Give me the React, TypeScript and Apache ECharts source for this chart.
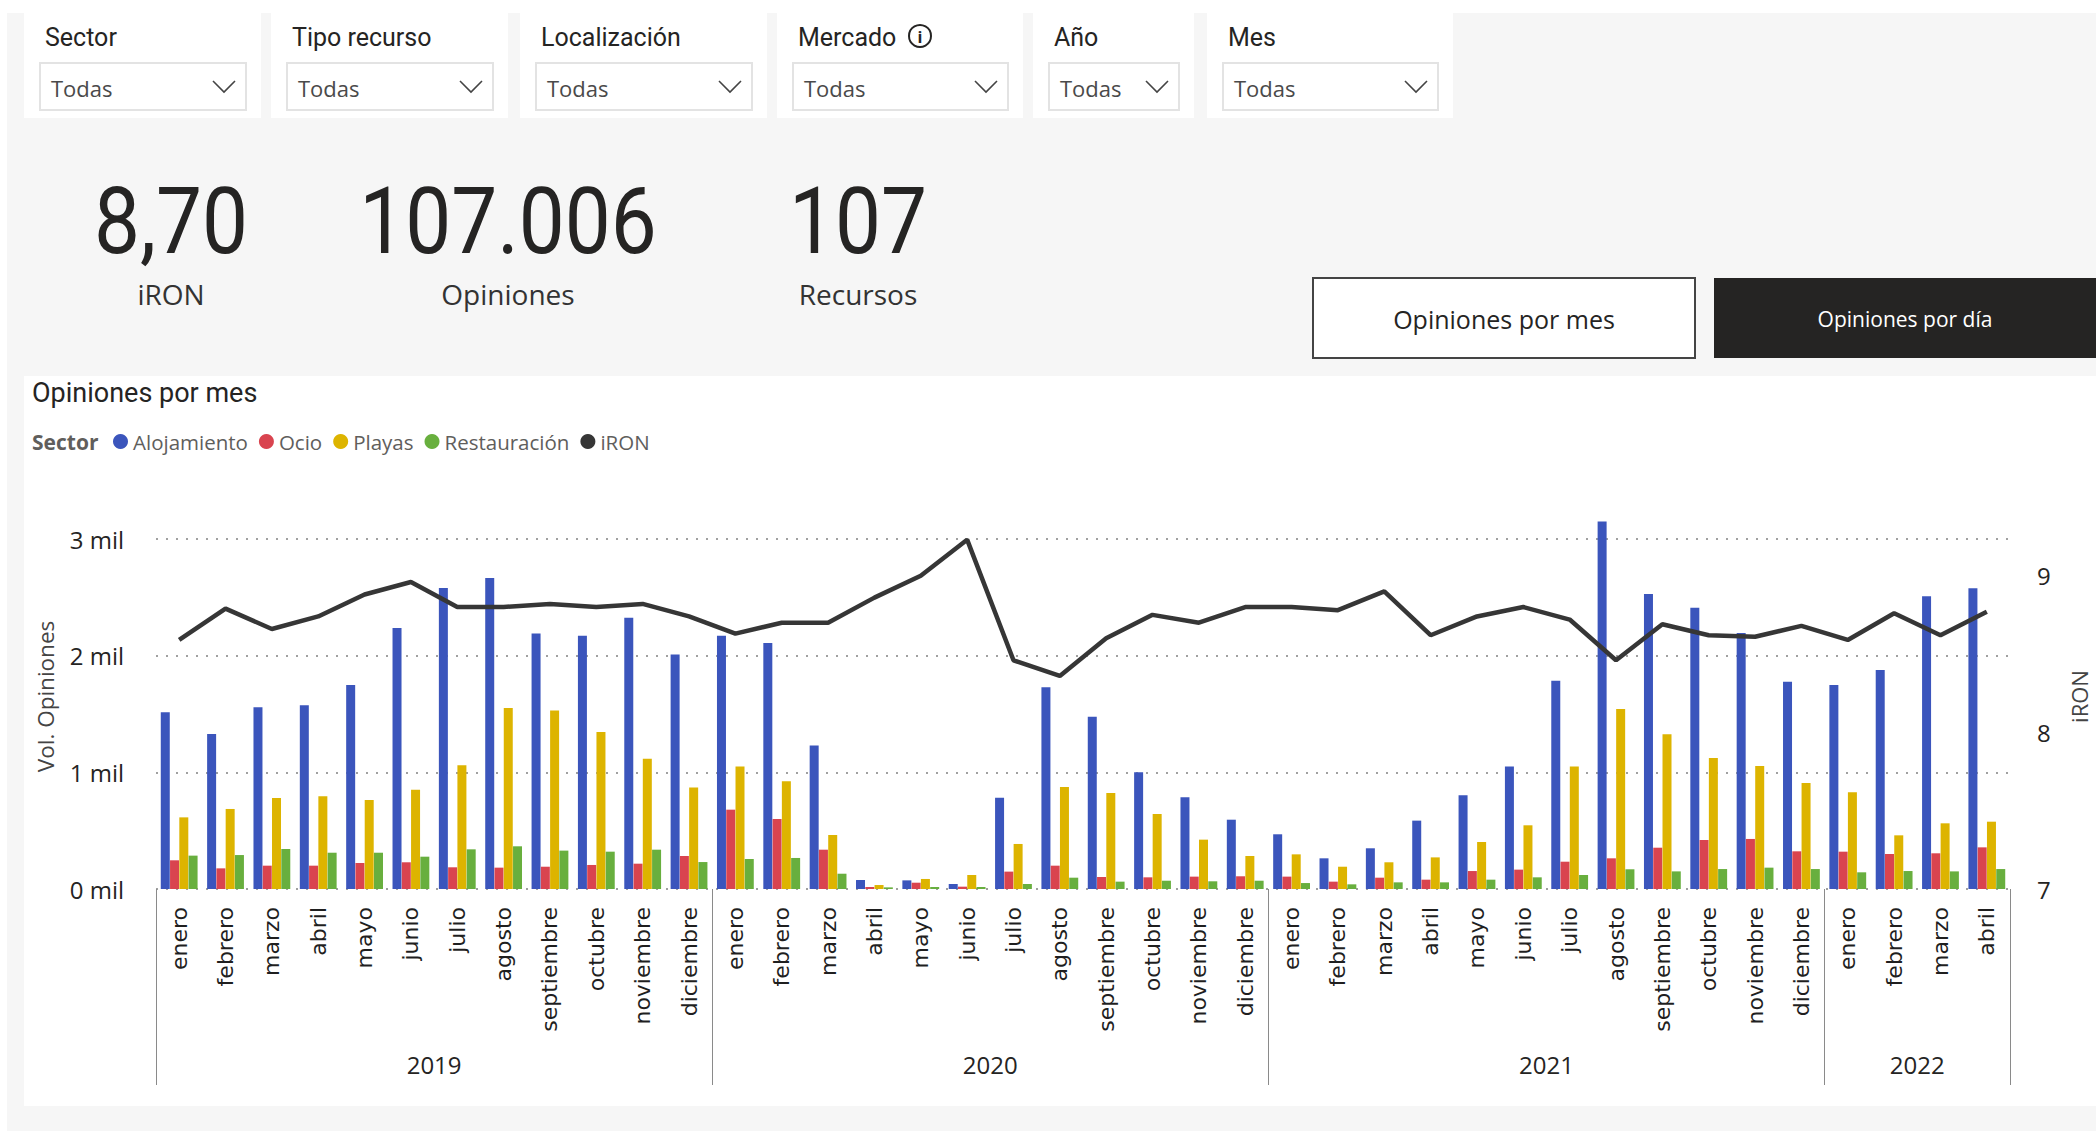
import React, { useEffect, useRef } from 'react';
import * as echarts from 'echarts';

// ---------------- DATA ----------------
const YEARS = ['2019', '2020', '2021', '2022'];
const MONTHS_PER_YEAR = [12, 12, 12, 4];
const MONTH_NAMES = ['enero', 'febrero', 'marzo', 'abril', 'mayo', 'junio', 'julio', 'agosto', 'septiembre', 'octubre', 'noviembre', 'diciembre'];

const SERIES_NAMES = ['Alojamiento', 'Ocio', 'Playas', 'Restauración', 'iRON'];

const ALOJAMIENTO = [
  1514, 1329, 1557, 1574, 1749, 2237, 2580, 2666, 2191, 2171, 2326, 2009,
  2171, 2109, 1231, 77, 74, 43, 783, 1729, 1477, 1000, 786, 594,
  469, 263, 349, 586, 803, 1049, 1786, 3149, 2529, 2411, 2194, 1777,
  1749, 1877, 2509, 2577,
];
const OCIO = [
  246, 177, 200, 200, 223, 229, 186, 183, 191, 206, 217, 283,
  680, 600, 337, 17, 54, 20, 149, 200, 103, 100, 106, 109,
  106, 63, 97, 80, 154, 166, 234, 263, 354, 420, 429, 323,
  320, 300, 306, 357,
];
const PLAYAS = [
  614, 686, 780, 794, 763, 851, 1060, 1551, 1529, 1346, 1117, 869,
  1051, 923, 463, 34, 86, 120, 386, 874, 823, 643, 423, 283,
  297, 191, 229, 271, 403, 546, 1049, 1543, 1326, 1123, 1054, 909,
  829, 460, 563, 577,
];
const RESTAURACION = [
  286, 291, 343, 311, 311, 277, 340, 366, 329, 320, 337, 231,
  257, 266, 131, 14, 17, 17, 43, 97, 63, 71, 66, 71,
  51, 40, 57, 57, 80, 100, 120, 169, 151, 171, 183, 171,
  143, 154, 151, 171,
];
const IRON = [
  8.59, 8.79, 8.66, 8.74, 8.88, 8.96, 8.80, 8.80, 8.82, 8.80, 8.82, 8.74,
  8.63, 8.70, 8.70, 8.86, 9.00, 9.23, 8.46, 8.36, 8.60, 8.75, 8.70, 8.80,
  8.80, 8.78, 8.90, 8.62, 8.74, 8.80, 8.72, 8.46, 8.69, 8.62, 8.61, 8.68,
  8.59, 8.76, 8.62, 8.77,
];

const LEFT_TICKS = [0, 1000, 2000, 3000];
const RIGHT_TICKS = [7, 8, 9];

const FILTER_TITLES = ['Sector', 'Tipo recurso', 'Localización', 'Mercado', 'Año', 'Mes'];
const FILTER_VALUE = 'Todas';
const KPI_VALUES = ['8,70', '107.006', '107'];
const KPI_LABELS = ['iRON', 'Opiniones', 'Recursos'];
const BUTTON_LABELS = ['Opiniones por mes', 'Opiniones por día'];
const CHART_TITLE = 'Opiniones por mes';
const LEGEND_TITLE = 'Sector';
const Y_LEFT_NAME = 'Vol. Opiniones';
const Y_RIGHT_NAME = 'iRON';

// ---------------- STYLE / LAYOUT ----------------
const COLORS = ['#3B55BC', '#D9444F', '#DDB400', '#68AF3E', '#363636'];
const DARK = '#252423';
const SEGOE = '"Open Sans", "Noto Sans", sans-serif';
const DIN = 'Roboto, "Open Sans", sans-serif';

const CARD_LAYOUT = [
  { x: 24, w: 237 }, { x: 271, w: 237 }, { x: 520, w: 247 },
  { x: 777, w: 246 }, { x: 1033, w: 161 }, { x: 1207, w: 246 },
];
const KPI_X = [171, 508, 858];

function buildCategories() {
  const cats: string[] = [];
  MONTHS_PER_YEAR.forEach((n) => {
    for (let i = 0; i < n; i++) cats.push(MONTH_NAMES[i]);
  });
  return cats;
}

function yearBoundaries() {
  const b = [0];
  MONTHS_PER_YEAR.forEach((n) => b.push(b[b.length - 1] + n));
  return b;
}

function text(x: number, y: number, t: string, opts: any = {}) {
  const { scaleX, ...style } = opts;
  const el: any = {
    type: 'text',
    x,
    y,
    z: 100,
    silent: true,
    style: {
      text: t,
      fill: DARK,
      fontFamily: SEGOE,
      fontSize: 22,
      textAlign: 'left',
      textVerticalAlign: 'middle',
      ...style,
    },
  };
  if (scaleX) el.scaleX = scaleX;
  return el;
}

function rect(x: number, y: number, w: number, h: number, style: any, z = -100) {
  return { type: 'rect', z, silent: true, shape: { x, y, width: w, height: h }, style };
}

function buildGraphics() {
  const els: any[] = [];
  // page canvas
  els.push(rect(7, 13, 2089, 1118, { fill: '#F6F6F6' }, -200));
  // filter cards
  CARD_LAYOUT.forEach((c, i) => {
    els.push(rect(c.x, 13, c.w, 105, { fill: '#FFFFFF' }, -150));
    const ddx = c.x + 16;
    const ddw = c.w - 31;
    els.push(rect(ddx, 63, ddw, 47, { fill: '#FFFFFF', stroke: '#E3E3E3', lineWidth: 2 }, -140));
    els.push(text(c.x + 21, 37, FILTER_TITLES[i], { fontFamily: DIN, fontSize: 25 }));
    els.push(text(ddx + 11, 88, FILTER_VALUE, { fontSize: 22, fill: '#4A4A4A' }));
    const cx = ddx + ddw - 22;
    els.push({
      type: 'polyline', z: 100, silent: true,
      shape: { points: [[cx - 11, 81], [cx, 92], [cx + 11, 81]] },
      style: { stroke: '#444', lineWidth: 1.6, fill: null },
    });
  });
  // info icon next to "Mercado"
  els.push({ type: 'circle', z: 100, silent: true, shape: { cx: 920, cy: 36, r: 11 }, style: { stroke: DARK, lineWidth: 2, fill: null } });
  els.push(text(920, 37, 'i', { fontSize: 16, fontWeight: 'bold', textAlign: 'center' }));

  // KPIs
  KPI_VALUES.forEach((v, i) => {
    els.push(text(KPI_X[i], 221, v, { fontFamily: DIN, fontSize: 93, textAlign: 'center', scaleX: 0.88 }));
    els.push(text(KPI_X[i], 294, KPI_LABELS[i], { fontSize: 28, textAlign: 'center', fill: '#333' }));
  });

  // buttons
  els.push(rect(1313, 278, 382, 80, { fill: '#FFFFFF', stroke: '#444', lineWidth: 2 }, -120));
  els.push(text(1504, 319, BUTTON_LABELS[0], { fontSize: 25, textAlign: 'center' }));
  els.push(rect(1714, 278, 382, 80, { fill: DARK }, -120));
  els.push(text(1905, 319, BUTTON_LABELS[1], { fontSize: 21, textAlign: 'center', fill: '#FFFFFF' }));

  // chart panel
  els.push(rect(24, 376, 2072, 730, { fill: '#FFFFFF' }, -150));
  els.push(text(32, 393, CHART_TITLE, { fontFamily: DIN, fontSize: 27 }));
  els.push(text(32, 442, LEGEND_TITLE, { fontSize: 21, fontWeight: 'bold', fill: '#605E5C' }));
  return els;
}

export default function App() {
  const ref = useRef<HTMLDivElement>(null);

  useEffect(() => {
    if (!ref.current) return;
    const chart = echarts.init(ref.current, undefined, { renderer: 'svg' });
    const categories = buildCategories();
    const bounds = yearBoundaries();
    const centers = YEARS.map((_, i) => (bounds[i] + bounds[i + 1]) / 2);
    const leftMax = 3300;
    const rightMax = 7 + 385 / 156.65;
    const gridColor = '#A0A0A0';

    const barBase = {
      type: 'bar',
      xAxisIndex: 0,
      yAxisIndex: 0,
      barWidth: 9,
      barGap: '3%',
    };

    const option: any = {
      animation: false,
      backgroundColor: '#FFFFFF',
      textStyle: { fontFamily: SEGOE },
      grid: { left: 156, right: 86, top: 504, bottom: 242, containLabel: false, outerBoundsMode: 'none' },
      legend: {
        left: 113,
        top: 431,
        padding: 0,
        icon: 'circle',
        itemWidth: 15,
        itemHeight: 15,
        itemGap: 11,
        textStyle: { fontFamily: SEGOE, fontSize: 20.5, color: '#605E5C' },
        data: SERIES_NAMES,
      },
      xAxis: [
        {
          type: 'category',
          data: categories,
          position: 'bottom',
          axisLine: { show: false },
          axisTick: { show: false },
          splitLine: { show: false },
          axisLabel: {
            interval: 0,
            rotate: 90,
            margin: 18,
            fontFamily: '"DejaVu Sans", sans-serif',
            fontSize: 22,
            color: '#1F1F1F',
          },
        },
        {
          type: 'value',
          min: bounds[0],
          max: bounds[bounds.length - 1],
          position: 'bottom',
          axisLine: { show: false },
          splitLine: { show: false },
          axisTick: {
            show: true,
            customValues: bounds,
            length: 196,
            lineStyle: { color: '#8A8A8A', width: 1 },
          },
          axisLabel: {
            customValues: centers,
            margin: 163,
            fontFamily: SEGOE,
            fontSize: 24,
            color: DARK,
            formatter: (v: number) => {
              const idx = centers.findIndex((c) => Math.abs(c - v) < 1e-6);
              return idx >= 0 ? YEARS[idx] : '';
            },
          },
        },
      ],
      yAxis: [
        {
          type: 'value',
          min: 0,
          max: leftMax,
          interval: 1000,
          name: Y_LEFT_NAME,
          nameLocation: 'middle',
          nameRotate: 90,
          nameGap: 99,
          nameTextStyle: { fontFamily: SEGOE, fontSize: 22.5, color: '#444' },
          axisLine: { show: false },
          axisTick: { show: false },
          axisLabel: {
            margin: 32,
            fontFamily: SEGOE,
            fontSize: 24,
            color: DARK,
            showMaxLabel: false,
            formatter: (v: number) => (LEFT_TICKS.includes(v) ? `${v / 1000} mil` : ''),
          },
          splitLine: {
            show: true,
            lineStyle: {
              color: [gridColor, gridColor, gridColor, gridColor, 'rgba(0,0,0,0)'],
              type: [2, 8],
              width: 2,
            },
          },
        },
        {
          type: 'value',
          min: 7,
          max: rightMax,
          interval: 1,
          name: Y_RIGHT_NAME,
          nameLocation: 'middle',
          nameRotate: 90,
          nameGap: 58,
          nameTextStyle: { fontFamily: SEGOE, fontSize: 22, color: '#444' },
          axisLine: { show: false },
          axisTick: { show: false },
          splitLine: { show: false },
          axisLabel: {
            margin: 27,
            fontFamily: SEGOE,
            fontSize: 24,
            color: DARK,
            showMaxLabel: false,
            formatter: (v: number) => (RIGHT_TICKS.some((t) => Math.abs(t - v) < 1e-9) ? String(Math.round(v)) : ''),
          },
        },
      ],
      series: [
        { ...barBase, name: SERIES_NAMES[0], data: ALOJAMIENTO, itemStyle: { color: COLORS[0] } },
        { ...barBase, name: SERIES_NAMES[1], data: OCIO, itemStyle: { color: COLORS[1] } },
        { ...barBase, name: SERIES_NAMES[2], data: PLAYAS, itemStyle: { color: COLORS[2] } },
        { ...barBase, name: SERIES_NAMES[3], data: RESTAURACION, itemStyle: { color: COLORS[3] } },
        {
          type: 'line',
          name: SERIES_NAMES[4],
          xAxisIndex: 0,
          yAxisIndex: 1,
          data: IRON,
          symbol: 'none',
          z: 5,
          color: COLORS[4],
          itemStyle: { color: COLORS[4] },
          lineStyle: { color: COLORS[4], width: 4.5 },
        },
      ],
      graphic: { elements: buildGraphics() },
    };

    chart.setOption(option);
    return () => chart.dispose();
  }, []);

  return (
    <div
      ref={ref}
      style={{ position: 'fixed', left: 0, top: 0, width: 2096, height: 1131 }}
    />
  );
}
